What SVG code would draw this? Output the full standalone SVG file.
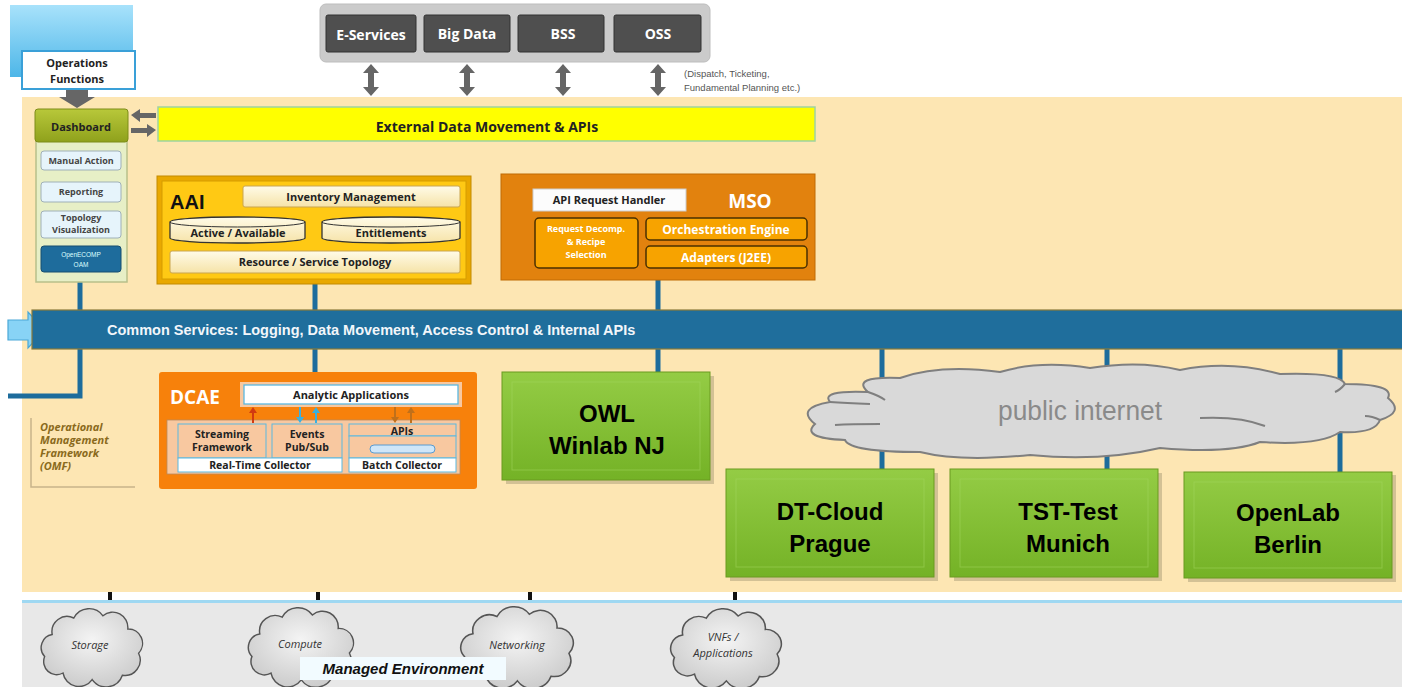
<svg xmlns="http://www.w3.org/2000/svg" width="1402" height="687" viewBox="0 0 1402 687">
<defs>
<style>
.t{font-family:"Liberation Sans",Arial,sans-serif}
.b{font-weight:bold}
.lbl{font-family:"Open Sans","Liberation Sans",sans-serif;font-weight:bold;fill:#222}
.conn{stroke:#1d6c9c;stroke-width:5;fill:none}
.dark{fill:#4f4f4f;stroke:#333;stroke-width:1}
.svc{font-family:"Open Sans","Liberation Sans",sans-serif;font-weight:bold;fill:#fff;font-size:14px}
.green{fill:url(#gg);stroke:#6a9a20;stroke-width:1}
.bevel{fill:none;stroke:#a6d860;stroke-width:1;opacity:0.5}
.gtxt{font-family:"Liberation Sans",Arial,sans-serif;font-weight:bold;font-size:24px;fill:#000}
.cream{fill:url(#cr);stroke:#c9a550;stroke-width:1}
.cloud{fill:url(#cg);stroke:#555;stroke-width:1.3}
.ctxt{font-family:"Open Sans","Liberation Sans",sans-serif;font-style:italic;font-size:11px;fill:#333}
.msub{fill:#f7a300;stroke:#4a3000;stroke-width:1.5}
.mtxt{font-family:"Open Sans","Liberation Sans",sans-serif;font-weight:bold;fill:#fff}
.dash{fill:#e6f4fb;stroke:#9fb0b8;stroke-width:1}
.dtxt{font-family:"Open Sans","Liberation Sans",sans-serif;font-weight:bold;font-size:9px;fill:#444}
</style>
<linearGradient id="gg" x1="0" y1="0" x2="0" y2="1"><stop offset="0" stop-color="#94cc45"/><stop offset="1" stop-color="#74b226"/></linearGradient>
<linearGradient id="cr" x1="0" y1="0" x2="0" y2="1"><stop offset="0" stop-color="#fffbe8"/><stop offset="1" stop-color="#f6e3a8"/></linearGradient>
<linearGradient id="bl" x1="0" y1="0" x2="0" y2="1"><stop offset="0" stop-color="#a8e2fb"/><stop offset="1" stop-color="#4db6e8"/></linearGradient>
<radialGradient id="cg" cx="0.5" cy="0.4" r="0.7"><stop offset="0" stop-color="#f4f4f4"/><stop offset="1" stop-color="#c6c6c6"/></radialGradient>
<linearGradient id="ds" x1="0" y1="0" x2="0" y2="1"><stop offset="0" stop-color="#b8c83a"/><stop offset="1" stop-color="#8fa11c"/></linearGradient>
<path id="cl" d="M 15 25 A 14 14 0 0 1 35 10 A 16 16 0 0 1 62 8 A 14 14 0 0 1 85 20 A 13 13 0 0 1 95 42 A 14 14 0 0 1 80 62 A 16 16 0 0 1 52 66 A 15 15 0 0 1 25 60 A 12 12 0 0 1 8 45 A 12 12 0 0 1 15 25 Z"/>
<g id="vdarrow"><polygon points="0,-16 -8,-7 -3,-7 -3,7 -8,7 0,16 8,7 3,7 3,-7 8,-7" fill="#666"/></g>
</defs>

<!-- backgrounds -->
<rect x="0" y="0" width="1402" height="687" fill="#ffffff"/>
<rect x="22" y="97" width="1380" height="495" fill="#fde6b3"/>
<rect x="22" y="601" width="1380" height="86" fill="#e8e8e8"/>
<line x1="22" y1="601.5" x2="1402" y2="601.5" stroke="#9fd8f2" stroke-width="3"/>

<!-- connectors -->
<g id="connectors">
  <line class="conn" x1="80" y1="282" x2="80" y2="312"/>
  <line class="conn" x1="315" y1="284" x2="315" y2="312"/>
  <line class="conn" x1="658" y1="280" x2="658" y2="312"/>
  <polyline class="conn" points="80,347 80,396 8,396"/>
  <line class="conn" x1="315" y1="347" x2="315" y2="374"/>
  <line class="conn" x1="658" y1="347" x2="658" y2="374"/>
  <line class="conn" x1="882" y1="347" x2="882" y2="471"/>
  <line class="conn" x1="1107" y1="347" x2="1107" y2="471"/>
  <line class="conn" x1="1340" y1="347" x2="1340" y2="474"/>
  <g stroke="#111" stroke-width="4">
    <line x1="110" y1="592" x2="110" y2="600"/>
    <line x1="318" y1="592" x2="318" y2="600"/>
    <line x1="530" y1="592" x2="530" y2="600"/>
    <line x1="735" y1="592" x2="735" y2="600"/>
  </g>
  <use href="#vdarrow" x="371" y="80"/>
  <use href="#vdarrow" x="467" y="80"/>
  <use href="#vdarrow" x="563" y="80"/>
  <use href="#vdarrow" x="658" y="80"/>
  <polygon points="66,90 88,90 88,97 95,97 77,108 59,97 66,97" fill="#666"/>
  <polygon points="131,115 140,109 140,113 156,113 156,118 140,118 140,122 131,115" fill="#666"/>
  <polygon points="156,130 147,124 147,128 131,128 131,133 147,133 147,137 156,130" fill="#666"/>
</g>

<!-- Operations functions -->
<g id="ops">
  <rect x="10" y="5" width="123" height="72" fill="url(#bl)"/>
  <rect x="22" y="51" width="113" height="38" fill="#fff" stroke="#3aa0d8" stroke-width="2"/>
  <text class="lbl" x="77" y="67" font-size="11" text-anchor="middle">Operations</text>
  <text class="lbl" x="77" y="83" font-size="11" text-anchor="middle">Functions</text>
</g>

<!-- Dashboard -->
<g id="dashboard">
  <rect x="36" y="112" width="91" height="170" fill="#e7efc6" stroke="#b8c08a" stroke-width="1.5"/>
  <rect x="35" y="109" width="93" height="33" rx="3" fill="url(#ds)" stroke="#7d8c18"/>
  <text class="lbl" x="81" y="131" font-size="11" text-anchor="middle">Dashboard</text>
  <rect class="dash" x="41" y="151" width="80" height="19" rx="3"/>
  <text class="dtxt" x="81" y="164" text-anchor="middle">Manual Action</text>
  <rect class="dash" x="41" y="182" width="80" height="20" rx="3"/>
  <text class="dtxt" x="81" y="195" text-anchor="middle" fill="#666">Reporting</text>
  <rect class="dash" x="41" y="211" width="80" height="27" rx="3"/>
  <text class="dtxt" x="81" y="221" text-anchor="middle" font-size="7.5">Topology</text>
  <text class="dtxt" x="81" y="233" text-anchor="middle" font-size="7.5">Visualization</text>
  <rect x="41" y="246" width="80" height="26" rx="3" fill="#1e6c9c" stroke="#164e70"/>
  <text class="t" x="81" y="257" font-size="6.5" text-anchor="middle" fill="#dff">OpenECOMP</text>
  <text class="t" x="81" y="267" font-size="6.5" text-anchor="middle" fill="#dff">OAM</text>
</g>

<!-- External data bar -->
<g id="extdata">
  <rect x="158" y="107" width="657" height="34" fill="#ffff00" stroke="#9fd3a0" stroke-width="1.5"/>
  <text class="lbl" x="487" y="132" font-size="14" text-anchor="middle" fill="#111">External Data Movement  &amp; APIs</text>
</g>

<!-- top services -->
<g id="services">
  <rect x="320" y="4" width="390" height="58" rx="6" fill="#cbcbcb" stroke="#bdbdbd"/>
  <rect class="dark" x="326" y="15" width="90" height="37" rx="2"/>
  <text class="svc" x="371" y="40" text-anchor="middle">E-Services</text>
  <rect class="dark" x="424" y="15" width="86" height="37" rx="2"/>
  <text class="svc" x="467" y="39" text-anchor="middle">Big Data</text>
  <rect class="dark" x="518" y="15" width="86" height="37" rx="2"/>
  <text class="svc" x="563" y="39" text-anchor="middle">BSS</text>
  <rect class="dark" x="614" y="15" width="87" height="37" rx="2"/>
  <text class="svc" x="658" y="39" text-anchor="middle">OSS</text>
  <text class="t" x="684" y="77" font-size="9.5" fill="#555">(Dispatch, Ticketing,</text>
  <text class="t" x="684" y="91" font-size="9.5" fill="#555">Fundamental Planning etc.)</text>
</g>

<!-- AAI -->
<g id="aai">
  <rect x="157" y="176" width="314" height="108" fill="#e9a800" stroke="#c38a00"/>
  <rect x="162" y="181" width="304" height="98" fill="#ffc914" stroke="#d59c00"/>
  <text class="t b" x="170" y="209" font-size="20" fill="#111">AAI</text>
  <rect class="cream" x="243" y="186" width="217" height="21" rx="2"/>
  <text class="lbl" x="351" y="201" font-size="11" text-anchor="middle">Inventory Management</text>
  <path d="M170,222 A67.5,5 0 0 1 305,222 L305,238 A67.5,5 0 0 1 170,238 Z" fill="url(#cr)" stroke="#333" stroke-width="1.3"/>
  <path d="M170,222 A67.5,5 0 0 0 305,222" fill="none" stroke="#333" stroke-width="1"/>
  <text class="lbl" x="238" y="237" font-size="11" text-anchor="middle">Active / Available</text>
  <path d="M322,222 A69,5 0 0 1 460,222 L460,238 A69,5 0 0 1 322,238 Z" fill="url(#cr)" stroke="#333" stroke-width="1.3"/>
  <path d="M322,222 A69,5 0 0 0 460,222" fill="none" stroke="#333" stroke-width="1"/>
  <text class="lbl" x="391" y="237" font-size="11" text-anchor="middle">Entitlements</text>
  <rect class="cream" x="170" y="251" width="290" height="22" rx="2"/>
  <text class="lbl" x="315" y="266" font-size="11" text-anchor="middle">Resource / Service Topology</text>
</g>

<!-- MSO -->
<g id="mso">
  <rect x="501" y="174" width="314" height="106" fill="#e2820e" stroke="#c06a05"/>
  <rect x="533" y="189" width="153" height="22" fill="#fcfcfc" stroke="#ccc"/>
  <text class="lbl" x="609" y="204" font-size="11" text-anchor="middle">API Request Handler</text>
  <text class="mtxt" x="750" y="208" font-size="19" text-anchor="middle">MSO</text>
  <rect class="msub" x="535" y="218" width="103" height="50" rx="4"/>
  <text class="mtxt" x="586" y="232" font-size="9" text-anchor="middle" fill="#fde8c0">Request Decomp.</text>
  <text class="mtxt" x="586" y="245" font-size="9" text-anchor="middle" fill="#fde8c0">&amp; Recipe</text>
  <text class="mtxt" x="586" y="258" font-size="9" text-anchor="middle" fill="#fde8c0">Selection</text>
  <rect class="msub" x="646" y="218" width="161" height="22" rx="4"/>
  <text class="mtxt" x="726" y="234" font-size="12" text-anchor="middle" fill="#fde8c0">Orchestration Engine</text>
  <rect class="msub" x="646" y="246" width="161" height="22" rx="4"/>
  <text class="mtxt" x="726" y="262" font-size="12" text-anchor="middle" fill="#fde8c0">Adapters (J2EE)</text>
</g>

<!-- Common services bar -->
<g id="common">
  <polygon points="8,320 28,320 28,312 45,330 28,348 28,340 8,340" fill="#88d3f6" stroke="#4aa8d8" stroke-width="1.2"/>
  <rect x="32" y="310" width="1372" height="39" fill="#1f6e9c" stroke="#8a7a3a" stroke-width="1.2"/>
  <text class="t b" x="107" y="335" font-size="14.5" fill="#f2f6fa">Common Services: Logging, Data Movement, Access Control &amp; Internal APIs</text>
</g>

<!-- OMF -->
<g id="omf">
  <polyline points="31,418 31,487 135,487" fill="none" stroke="#c8b48a" stroke-width="1.5"/>
  <g font-family="'Open Sans','Liberation Sans',sans-serif" font-weight="bold" font-style="italic" font-size="11" fill="#8a6a1c">
    <text x="40" y="431">Operational</text>
    <text x="40" y="444">Management</text>
    <text x="40" y="457">Framework</text>
    <text x="40" y="470">(OMF)</text>
  </g>
</g>

<!-- DCAE -->
<g id="dcae">
  <rect x="159" y="372" width="318" height="117" rx="3" fill="#f7810b"/>
  <text class="mtxt" x="170" y="404" font-size="19">DCAE</text>
  <rect x="240" y="382" width="222" height="25" fill="#f8c8a0"/>
  <rect x="244" y="385" width="214" height="19" fill="#fff" stroke="#5bb8e0" stroke-width="1.3"/>
  <text class="lbl" x="351" y="399" font-size="11" text-anchor="middle">Analytic Applications</text>
  <rect x="167" y="420" width="293" height="54" fill="#f8c8a0" stroke="#b88a60" stroke-width="0.8"/>
  <rect x="178" y="424" width="88" height="34" fill="#f8c8a0" stroke="#5bb8e0" stroke-width="1"/>
  <text class="lbl" x="222" y="438" font-size="10.5" text-anchor="middle">Streaming</text>
  <text class="lbl" x="222" y="451" font-size="10.5" text-anchor="middle">Framework</text>
  <rect x="272" y="424" width="70" height="34" fill="#f8c8a0" stroke="#5bb8e0" stroke-width="1"/>
  <text class="lbl" x="307" y="438" font-size="10.5" text-anchor="middle">Events</text>
  <text class="lbl" x="307" y="451" font-size="10.5" text-anchor="middle">Pub/Sub</text>
  <rect x="178" y="458" width="164" height="14" fill="#fff" stroke="#5bb8e0" stroke-width="1"/>
  <text class="lbl" x="260" y="469" font-size="10.5" text-anchor="middle">Real-Time Collector</text>
  <rect x="349" y="424" width="107" height="12" fill="#f8c8a0" stroke="#5bb8e0" stroke-width="1"/>
  <text class="lbl" x="402" y="435" font-size="10.5" text-anchor="middle">APIs</text>
  <rect x="349" y="436" width="107" height="22" fill="#f8c8a0" stroke="#5bb8e0" stroke-width="1"/>
  <rect x="370" y="445" width="65" height="8" rx="4" fill="#cfe6f8" stroke="#5b9bd0"/>
  <rect x="349" y="458" width="107" height="14" fill="#fff" stroke="#5bb8e0" stroke-width="1"/>
  <text class="lbl" x="402" y="469" font-size="10.5" text-anchor="middle">Batch Collector</text>
  <g stroke-width="2">
    <line x1="253" y1="423" x2="253" y2="411" stroke="#d23a10"/>
    <polygon points="253,407 249,413 257,413" fill="#d23a10"/>
    <line x1="300" y1="407" x2="300" y2="419" stroke="#3ab0e0"/>
    <polygon points="300,423 296,417 304,417" fill="#3ab0e0"/>
    <line x1="316" y1="423" x2="316" y2="411" stroke="#3ab0e0"/>
    <polygon points="316,407 312,413 320,413" fill="#3ab0e0"/>
    <line x1="395" y1="407" x2="395" y2="419" stroke="#c0701a"/>
    <polygon points="395,423 391,417 399,417" fill="#c0701a"/>
    <line x1="411" y1="423" x2="411" y2="411" stroke="#c0701a"/>
    <polygon points="411,407 407,413 415,413" fill="#c0701a"/>
  </g>
</g>

<!-- OWL -->
<g id="owl">
  <rect x="506" y="376" width="208" height="108" fill="#b8a880" opacity="0.6"/>
  <rect class="green" x="502" y="372" width="208" height="108"/>
  <rect class="bevel" x="512" y="382" width="188" height="88"/>
  <text class="gtxt" x="607" y="422" text-anchor="middle">OWL</text>
  <text class="gtxt" x="607" y="454" text-anchor="middle">Winlab NJ</text>
</g>

<!-- public internet cloud -->
<g id="internet">
  <path d="M 868 392 Q 850 376 900 378 Q 940 364 1000 372 Q 1040 360 1090 368 Q 1140 360 1180 370 Q 1230 360 1280 374 Q 1340 372 1345 384 Q 1395 384 1388 398 Q 1405 412 1380 420 Q 1375 434 1340 432 Q 1320 446 1260 442 Q 1230 454 1160 448 Q 1100 462 1030 455 Q 960 462 920 452 Q 850 452 845 440 Q 800 438 815 424 Q 795 408 830 402 Q 820 390 868 392 Z" fill="#d9d9d9" stroke="#7f7f7f" stroke-width="2"/>
  <g fill="none" stroke="#7f7f7f" stroke-width="2">
    <path d="M 868 392 Q 880 396 885 400"/>
    <path d="M 830 402 Q 845 403 870 404"/>
    <path d="M 835 425 Q 850 424 880 424"/>
    <path d="M 1200 418 Q 1240 416 1265 426"/>
    <path d="M 1345 384 Q 1340 390 1335 392"/>
    <path d="M 1380 420 Q 1372 416 1365 416"/>
  </g>
  <text class="t" x="1080" y="420" font-size="27" text-anchor="middle" fill="#8a8a8a" textLength="164" lengthAdjust="spacingAndGlyphs">public internet</text>
</g>

<!-- Cloud sites -->
<g id="dtcloud">
  <rect x="730" y="473" width="208" height="108" fill="#b8a880" opacity="0.6"/>
  <rect class="green" x="726" y="469" width="208" height="108"/>
  <rect class="bevel" x="736" y="479" width="188" height="88"/>
  <text class="gtxt" x="830" y="520" text-anchor="middle">DT-Cloud</text>
  <text class="gtxt" x="830" y="552" text-anchor="middle">Prague</text>
</g>
<g id="tsttest">
  <rect x="954" y="473" width="208" height="108" fill="#b8a880" opacity="0.6"/>
  <rect class="green" x="950" y="469" width="208" height="108"/>
  <rect class="bevel" x="960" y="479" width="188" height="88"/>
  <text class="gtxt" x="1068" y="520" text-anchor="middle">TST-Test</text>
  <text class="gtxt" x="1068" y="552" text-anchor="middle">Munich</text>
</g>
<g id="openlab">
  <rect x="1188" y="475" width="208" height="107" fill="#b8a880" opacity="0.6"/>
  <rect class="green" x="1184" y="472" width="208" height="106"/>
  <rect class="bevel" x="1194" y="482" width="188" height="86"/>
  <text class="gtxt" x="1288" y="521" text-anchor="middle">OpenLab</text>
  <text class="gtxt" x="1288" y="553" text-anchor="middle">Berlin</text>
</g>

<!-- Managed environment clouds -->
<g id="storage">
  <use href="#cl" class="cloud" transform="translate(36,607) scale(1.08,1.1)"/>
  <text class="ctxt" x="90" y="649" text-anchor="middle">Storage</text>
</g>
<g id="compute">
  <use href="#cl" class="cloud" transform="translate(243,606) scale(1.12,1.12)"/>
  <text class="ctxt" x="300" y="648" text-anchor="middle">Compute</text>
</g>
<g id="networking">
  <use href="#cl" class="cloud" transform="translate(455,605) scale(1.2,1.15)"/>
  <text class="ctxt" x="517" y="649" text-anchor="middle">Networking</text>
</g>
<g id="vnfs">
  <use href="#cl" class="cloud" transform="translate(665,607) scale(1.18,1.12)"/>
  <text class="ctxt" x="723" y="641" text-anchor="middle">VNFs /</text>
  <text class="ctxt" x="723" y="657" text-anchor="middle">Applications</text>
</g>
<g id="managed">
  <rect x="300" y="657" width="206" height="23" fill="#f2fbff"/>
  <text class="t b" x="403" y="674" font-size="15" font-style="italic" text-anchor="middle" fill="#111">Managed Environment</text>
</g>
</svg>
